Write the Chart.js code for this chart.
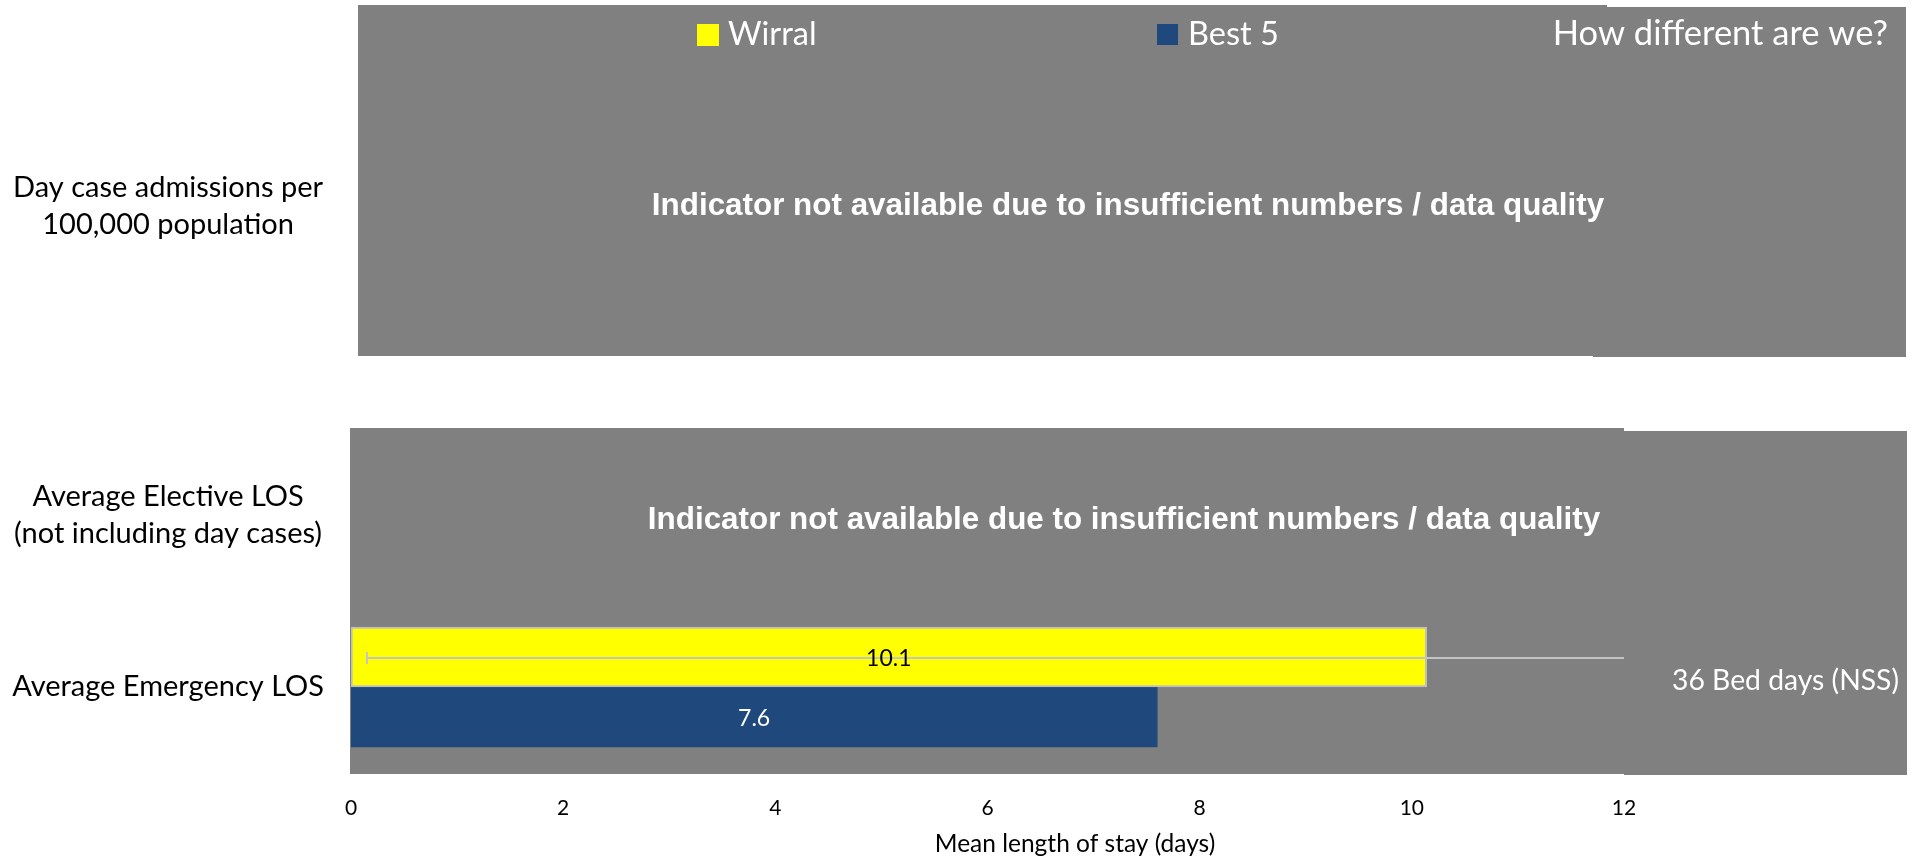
<!DOCTYPE html>
<html>
<head>
<meta charset="utf-8">
<script src="https://cdn.jsdelivr.net/npm/chart.js@4/dist/chart.umd.min.js"></script>
<style>
  html, body { margin: 0; padding: 0; background: #ffffff; }
  #wrap { width: 1914px; height: 861px; position: relative; }
  canvas { display: block; }
</style>
</head>
<body>
<div id="wrap"><canvas id="c" width="1914" height="861"></canvas></div>
<script>
// ---------------- data ----------------
const categories = [
  ["Day case admissions per", "100,000 population"],
  ["Average Elective LOS", "(not including day cases)"],
  "Average Emergency LOS"
];
const seriesNames = ["Wirral", "Best 5"];
const wirralValues = [null, null, 10.14];
const best5Values = [null, null, 7.6];
const wirralErrLow = [null, null, 0.15];
const wirralErrHigh = [null, null, 12];
const xTicks = [0, 2, 4, 6, 8, 10, 12];
const xTitle = "Mean length of stay (days)";
const unavailableRows = [0, 1];
const unavailableText = "Indicator not available due to insufficient numbers / data quality";
const comparisonHeader = "How different are we?";
const comparisonNotes = [null, null, "36 Bed days (NSS)"];

// ---------------- styling ----------------
const SANS = "Lato, 'Open Sans', sans-serif";
const BOLD = "'Liberation Sans', Arial, sans-serif";
const GRAY = '#808080';
const YELLOW = '#FFFF00';
const BLUE = '#1F497D';
const LIGHT = '#C4C4C4';

// category scale whose rows sit at chosen fractions of the plot height
class RowCategoryScale extends Chart.CategoryScale {
  getPixelForValue(value) {
    if (typeof value !== 'number') value = this.parse(value);
    const rows = this.options.rowCenters;
    if (value === null || value === undefined || !rows || rows[value] === undefined) {
      return super.getPixelForValue(value);
    }
    return this.top + rows[value] * (this.bottom - this.top);
  }
}
RowCategoryScale.id = 'rowCategory';
RowCategoryScale.defaults = Chart.CategoryScale.defaults;
Chart.register(RowCategoryScale);

const decorations = {
  id: 'decorations',
  beforeDraw(chart) {
    const { ctx, chartArea: ca } = chart;
    ctx.save();
    ctx.fillStyle = GRAY;
    // overlay panel for the first row
    ctx.fillRect(358, 5, 1607 - 358, 356 - 5);
    ctx.fillRect(1593, 7, 1906 - 1593, 357 - 7);
    // overlay panel for the second row + plot area
    ctx.fillRect(ca.left - 1, 428, ca.right - ca.left + 1, ca.bottom - 428);
    // comparison column
    ctx.fillRect(ca.right, 431, 1907 - ca.right, 775 - 431);
    ctx.restore();
  },
  afterDatasetsDraw(chart) {
    const { ctx, scales: { x } } = chart;
    ctx.save();
    // error bar for Wirral
    const m0 = chart.getDatasetMeta(0);
    m0.data.forEach((el, i) => {
      const lo = wirralErrLow[i], hi = wirralErrHigh[i];
      if (wirralValues[i] == null || lo == null || hi == null) return;
      const yy = Math.round(el.y) + 1;
      const xl = x.getPixelForValue(Math.max(lo, x.min));
      const xh = x.getPixelForValue(Math.min(hi, x.max));
      ctx.strokeStyle = LIGHT;
      ctx.lineWidth = 2;
      ctx.beginPath();
      ctx.moveTo(xl, yy); ctx.lineTo(xh, yy);
      if (lo >= x.min) { ctx.moveTo(xl, yy - 6); ctx.lineTo(xl, yy + 6); }
      if (hi < x.max) { ctx.moveTo(xh, yy - 6); ctx.lineTo(xh, yy + 6); }
      ctx.stroke();
    });
    // value labels
    const labelColors = ['#000000', '#FFFFFF'];
    chart.data.datasets.forEach((ds, di) => {
      const meta = chart.getDatasetMeta(di);
      meta.data.forEach((el, i) => {
        const v = ds.data[i];
        if (v == null) return;
        ctx.fillStyle = labelColors[di];
        ctx.font = `23px ${SANS}`;
        ctx.textAlign = 'center';
        ctx.textBaseline = 'middle';
        ctx.fillText(v.toFixed(1), (el.x + el.base) / 2, el.y + 2);
      });
    });
    ctx.restore();
  },
  afterDraw(chart) {
    const { ctx, scales: { x, y } } = chart;
    ctx.save();
    ctx.textBaseline = 'alphabetic';
    // "not available" messages
    ctx.fillStyle = '#FFFFFF';
    ctx.font = `bold 31.4px ${BOLD}`;
    ctx.textAlign = 'center';
    const msgPos = [[1128, 215], [1124, 529]];
    unavailableRows.forEach((r, k) => {
      ctx.fillText(unavailableText, msgPos[k][0], msgPos[k][1]);
    });
    // legend
    const boxes = [[697, 24, 22, 22], [1157, 24, 21, 21]];
    const texts = [728, 1188];
    chart.data.datasets.forEach((ds, di) => {
      ctx.fillStyle = ds.backgroundColor;
      ctx.fillRect(...boxes[di]);
      ctx.fillStyle = '#FFFFFF';
      ctx.font = `32.5px ${SANS}`;
      ctx.textAlign = 'left';
      ctx.fillText(ds.label, texts[di], 45);
    });
    // comparison column
    ctx.textAlign = 'right';
    ctx.font = `34.5px ${SANS}`;
    ctx.fillText(comparisonHeader, 1888, 45);
    ctx.font = `28.3px ${SANS}`;
    ctx.textAlign = 'left';
    comparisonNotes.forEach((t, i) => {
      if (!t) return;
      ctx.fillText(t, 1672, y.getPixelForValue(i) + 3);
    });
    // x axis title
    ctx.fillStyle = '#000000';
    ctx.font = `24.5px ${SANS}`;
    ctx.textAlign = 'center';
    ctx.fillText(xTitle, 1075, 852);
    ctx.restore();
  }
};

new Chart(document.getElementById('c'), {
  type: 'bar',
  data: {
    labels: categories,
    datasets: [
      { label: seriesNames[0], data: wirralValues, backgroundColor: YELLOW, borderColor: '#BFBFBF',
        borderWidth: 2, borderSkipped: false, barThickness: 60 },
      { label: seriesNames[1], data: best5Values, backgroundColor: BLUE, borderWidth: 0, barThickness: 60 }
    ]
  },
  options: {
    indexAxis: 'y',
    responsive: false,
    animation: false,
    devicePixelRatio: 1,
    layout: { padding: { top: 6, right: 290, left: 0, bottom: 0 } },
    plugins: { legend: { display: false }, tooltip: { enabled: false } },
    scales: {
      x: {
        type: 'linear', position: 'bottom', min: 0, max: 12,
        afterFit(s) { s.height = 87; s.paddingLeft = 0; s.paddingRight = 0; },
        afterBuildTicks(s) { s.ticks = xTicks.map(v => ({ value: v })); },
        ticks: { stepSize: 2, color: '#000000', font: { family: SANS, size: 21 }, padding: 22 },
        grid: { display: false, drawTicks: false },
        border: { display: false }
      },
      y: {
        type: 'rowCategory',
        rowCenters: [0.2604, 0.6628, 0.8867],
        afterFit(s) { s.width = 351; s.paddingTop = 0; s.paddingBottom = 0; },
        ticks: { crossAlign: 'center', color: '#000000',
                 font: { family: SANS, size: 29, lineHeight: 1.28 }, padding: 27 },
        grid: { display: false, drawTicks: false },
        border: { display: false }
      }
    }
  },
  plugins: [decorations]
});
</script>
</body>
</html>
